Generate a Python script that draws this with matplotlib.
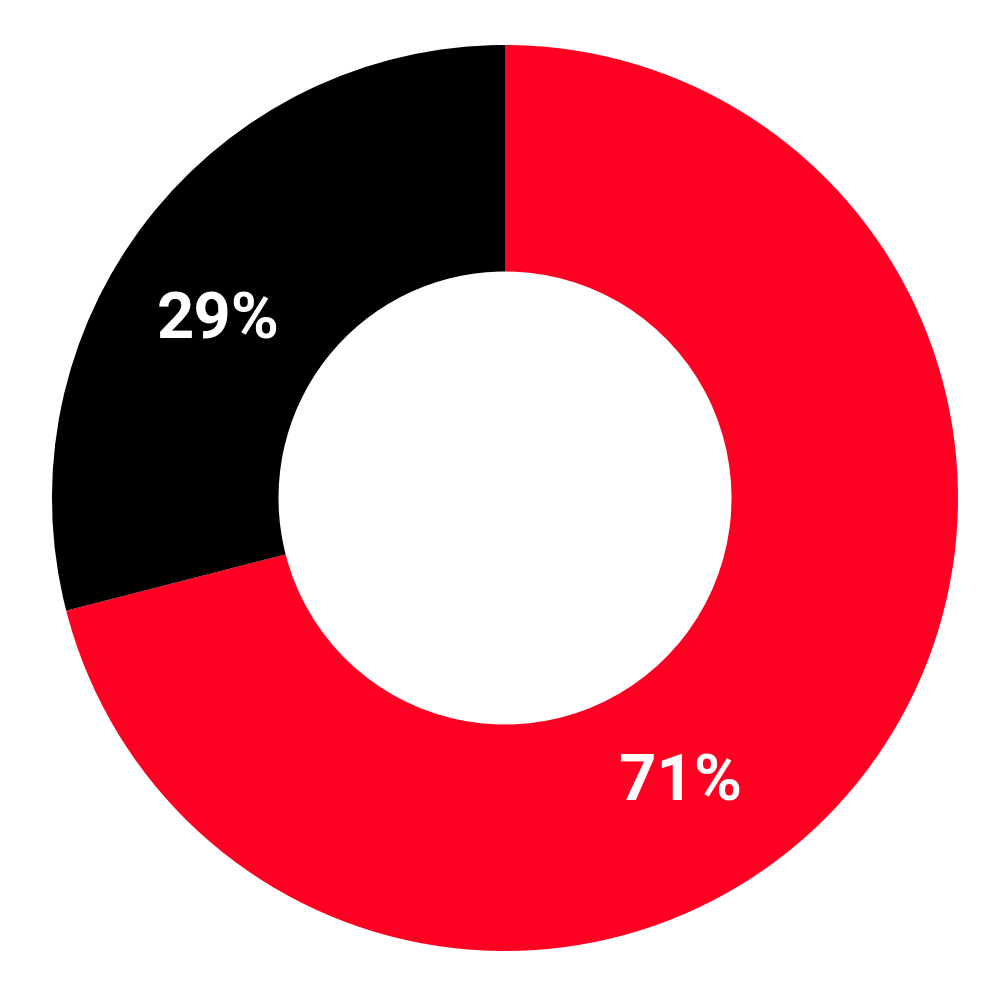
import numpy as np
import matplotlib.pyplot as plt

# valores del donut
labels = ['71%', '29%']
values = [71, 29]
colors = ['#FF0022', '#000000']
# posicion de las etiquetas (angulo en grados, radio)
label_angles = [-58.4, 148.3]
label_radii = [0.738, 0.745]

fig = plt.figure(figsize=(10, 10), dpi=100)
ax = fig.add_axes([0, 0, 1, 1])

ax.pie(values, colors=colors, startangle=90, counterclock=False, radius=1,
       wedgeprops=dict(width=0.5, linewidth=0))

for lab, ang, r in zip(labels, label_angles, label_radii):
    a = np.deg2rad(ang)
    ax.text(r * np.cos(a), r * np.sin(a), lab, color='white', fontsize=47,
            fontfamily='Roboto', fontweight='bold', ha='center', va='center')

R = 453
ax.set_xlim(-505 / R, 495 / R)
ax.set_ylim(-502 / R, 498 / R)
ax.set_aspect('equal')
ax.axis('off')

fig.savefig('out.png', dpi=100, facecolor='white')
